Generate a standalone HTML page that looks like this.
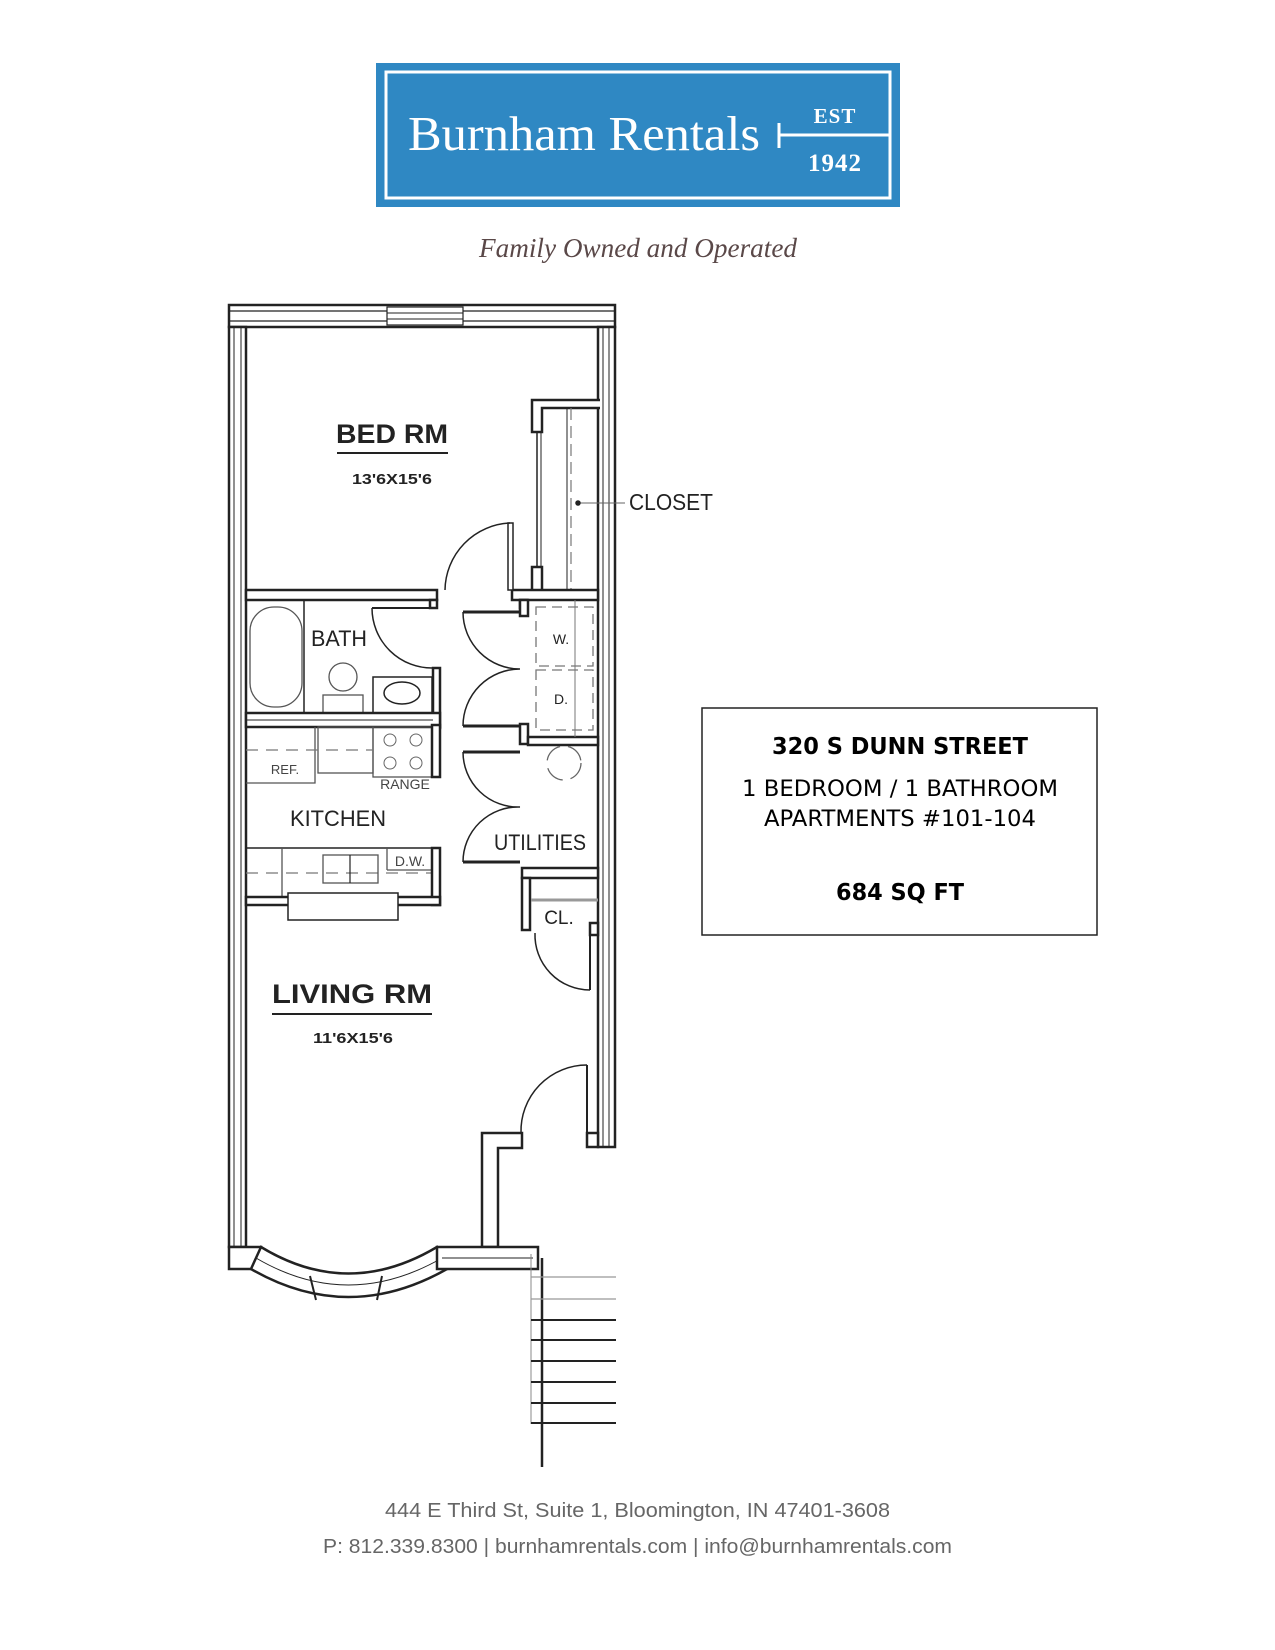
<!DOCTYPE html>
<html><head><meta charset="utf-8"><style>
html,body{margin:0;padding:0;background:#fff}
svg{display:block}
</style></head><body>
<svg width="1275" height="1650" viewBox="0 0 1275 1650" xmlns="http://www.w3.org/2000/svg">
<!-- Logo -->
<rect x="376" y="63" width="524" height="144" fill="#2f88c3"/>
<rect x="386" y="72" width="504" height="126" fill="none" stroke="#fff" stroke-width="3"/>
<text x="408" y="150" font-family="Liberation Serif, serif" font-size="49" fill="#fff" textLength="352" lengthAdjust="spacingAndGlyphs">Burnham Rentals</text>
<line x1="778" y1="135" x2="890" y2="135" stroke="#fff" stroke-width="3"/>
<line x1="779" y1="123" x2="779" y2="148" stroke="#fff" stroke-width="3"/>
<text x="835" y="123" text-anchor="middle" font-family="Liberation Serif, serif" font-size="21" font-weight="bold" fill="#fff" letter-spacing="1">EST</text>
<text x="835" y="171" text-anchor="middle" font-family="Liberation Serif, serif" font-size="25" font-weight="bold" fill="#fff" letter-spacing="1">1942</text>
<text x="638" y="257" text-anchor="middle" font-family="Liberation Serif, serif" font-style="italic" font-size="27" fill="#5a4848" textLength="318" lengthAdjust="spacingAndGlyphs">Family Owned and Operated</text>

<g stroke="#222" fill="none" stroke-width="2.5">
<!-- top wall -->
<rect x="229" y="305" width="386" height="22" fill="#fff"/>
<line x1="229" y1="311" x2="615" y2="311" stroke-width="1.2"/>
<line x1="229" y1="321" x2="615" y2="321" stroke-width="1.2"/>
<rect x="387" y="307" width="76" height="18" fill="#fff" stroke-width="1.2"/>
<line x1="387" y1="313" x2="463" y2="313" stroke-width="1"/>
<line x1="387" y1="319" x2="463" y2="319" stroke-width="1"/>
<!-- left wall -->
<rect x="229" y="327" width="17" height="920" fill="#fff"/>
<line x1="234" y1="327" x2="234" y2="1247" stroke-width="1"/>
<line x1="241" y1="327" x2="241" y2="1247" stroke-width="1"/>
<!-- right wall -->
<rect x="598" y="327" width="17" height="820" fill="#fff"/>
<line x1="603" y1="327" x2="603" y2="1147" stroke-width="1"/>
<line x1="609" y1="327" x2="609" y2="1147" stroke-width="1"/>
<rect x="587" y="1133" width="11" height="14" fill="#fff"/>

<!-- closet -->
<path d="M600 400 H532 V432 H542 V408 H600" fill="#fff"/>
<line x1="537" y1="432" x2="537" y2="567" stroke-width="1.5"/>
<line x1="541" y1="432" x2="541" y2="567" stroke-width="1"/>
<rect x="532" y="567" width="10" height="25" fill="#fff"/>
<line x1="567" y1="408" x2="567" y2="592" stroke-width="1"/>
<line x1="571" y1="408" x2="571" y2="592" stroke-width="1.2" stroke-dasharray="12 6" stroke="#777"/>
<!-- bed/bath wall -->
<rect x="246" y="590" width="191" height="10" fill="#fff"/>
<rect x="430" y="600" width="7" height="8" fill="#fff"/>
<rect x="512" y="590" width="86" height="10" fill="#fff"/>
<rect x="520" y="600" width="7" height="8" fill="#fff"/>
<!-- bedroom door -->
<rect x="508" y="523" width="5" height="67" fill="#fff" stroke-width="1.5"/>
<path d="M510 523 A68 68 0 0 0 445 590" stroke-width="1.5"/>
<!-- bath door -->
<path d="M372 608 A60 60 0 0 0 433 668" stroke-width="1.5"/>
<line x1="372" y1="608" x2="430" y2="608" stroke-width="2"/>
<rect x="433" y="668" width="7" height="60" fill="#fff"/>
<!-- bath fixtures -->
<rect x="250" y="607" width="52" height="100" rx="24" stroke-width="1.3" stroke="#555"/>
<line x1="304" y1="600" x2="304" y2="713" stroke-width="1.5"/>
<circle cx="343" cy="677" r="14" stroke-width="1.3" stroke="#555"/>
<rect x="323" y="695" width="40" height="18" stroke-width="1.3" stroke="#555"/>
<rect x="373" y="677" width="59" height="36" stroke-width="1.5"/>
<ellipse cx="402" cy="693" rx="18" ry="11" stroke-width="1.5"/>
<!-- bath/kitchen wall -->
<rect x="246" y="713" width="194" height="14" fill="#fff"/>
<line x1="246" y1="720" x2="433" y2="720" stroke-width="1"/>
<!-- kitchen upper -->
<path d="M246 783 H315 V727" stroke-width="1.3" stroke="#555"/>
<rect x="318" y="727" width="55" height="46" stroke-width="1.3" stroke="#555"/>
<rect x="373" y="727" width="59" height="50" stroke-width="1.3" stroke="#555"/>
<line x1="246" y1="750" x2="373" y2="750" stroke-width="1.3" stroke="#777" stroke-dasharray="12 8"/>
<circle cx="390" cy="740" r="6" stroke-width="1" stroke="#666"/>
<circle cx="416" cy="740" r="6" stroke-width="1" stroke="#666"/>
<circle cx="390" cy="763" r="6" stroke-width="1" stroke="#666"/>
<circle cx="416" cy="763" r="6" stroke-width="1" stroke="#666"/>
<rect x="432" y="725" width="8" height="52" fill="#fff"/>
<!-- kitchen lower -->
<path d="M246 848 H432" stroke-width="1.5"/>
<line x1="282" y1="848" x2="282" y2="897" stroke-width="1.3" stroke="#555"/>
<line x1="246" y1="873" x2="432" y2="873" stroke-width="1.2" stroke="#777" stroke-dasharray="12 8"/>
<rect x="323" y="855" width="55" height="28" stroke-width="1.3" stroke="#555"/>
<line x1="350" y1="855" x2="350" y2="883" stroke-width="1.2"/>
<line x1="387" y1="848" x2="387" y2="870" stroke-width="1.3" stroke="#555"/>
<line x1="387" y1="870" x2="432" y2="870" stroke-width="1.3" stroke="#555"/>
<rect x="432" y="848" width="8" height="57" fill="#fff"/>
<rect x="246" y="897" width="43" height="8" fill="#fff"/>
<rect x="397" y="897" width="43" height="8" fill="#fff"/>
<rect x="288" y="893" width="110" height="27" fill="#fff" stroke-width="1.5"/>

<!-- utility double doors -->
<line x1="463" y1="612" x2="520" y2="612" stroke-width="3"/>
<path d="M463 612 A57 57 0 0 0 520 669 A57 57 0 0 0 463 726" stroke-width="1.5"/>
<line x1="463" y1="726" x2="520" y2="726" stroke-width="3"/>
<line x1="463" y1="752" x2="520" y2="752" stroke-width="3"/>
<path d="M463 752 A55 55 0 0 0 520 807 A55 55 0 0 0 463 862" stroke-width="1.5"/>
<line x1="463" y1="862" x2="520" y2="862" stroke-width="3"/>
<!-- W/D -->
<rect x="520" y="600" width="8" height="16" fill="#fff"/>
<rect x="520" y="724" width="8" height="20" fill="#fff"/>
<rect x="528" y="737" width="70" height="8" fill="#fff"/>
<g stroke="#777" stroke-width="1.3" stroke-dasharray="10 6">
<rect x="536" y="607" width="57" height="59"/>
<rect x="536" y="670" width="57" height="60"/>
</g>
<line x1="575" y1="600" x2="575" y2="737" stroke-width="1" stroke="#777"/>
<circle cx="564" cy="763" r="17" stroke="#666" stroke-width="1.3" stroke-dasharray="20 8"/>
<!-- utilities/CL walls -->
<rect x="522" y="868" width="76" height="10" fill="#fff"/>
<rect x="522" y="878" width="8" height="52" fill="#fff"/>
<line x1="531" y1="900" x2="598" y2="900" stroke="#999" stroke-width="3"/>
<rect x="590" y="923" width="8" height="12" fill="#fff"/>
<line x1="590" y1="935" x2="590" y2="990" stroke-width="2"/>
<path d="M535 933 A55 55 0 0 0 590 990" stroke-width="1.5"/>
<!-- entry door -->
<line x1="587" y1="1065" x2="587" y2="1133" stroke-width="2"/>
<path d="M587 1065 A66 66 0 0 0 521 1133" stroke-width="1.5"/>
<!-- entry walls -->
<path d="M522 1133 H482 V1247 H498 V1148 H522 Z" fill="#fff"/>
<!-- bay -->
<rect x="229" y="1247" width="32" height="22" fill="#fff"/>
<path d="M261 1247 Q348 1300 437 1247 L447 1269 Q348 1325 251 1269 Z" fill="#fff"/>
<path d="M256 1258 Q348 1312 442 1258" stroke-width="1"/>
<line x1="310" y1="1276" x2="316" y2="1300" stroke-width="2"/>
<line x1="382" y1="1276" x2="377" y2="1300" stroke-width="2"/>
<rect x="437" y="1247" width="101" height="22" fill="#fff"/>
<line x1="442" y1="1258" x2="533" y2="1258" stroke-width="1"/>
<!-- stairs -->
<line x1="542" y1="1258" x2="542" y2="1467" stroke-width="2.5"/>
<line x1="531" y1="1254" x2="531" y2="1424" stroke-width="1" stroke="#888"/>
<line x1="531" y1="1277" x2="616" y2="1277" stroke-width="1.2" stroke="#999"/>
<line x1="531" y1="1299" x2="616" y2="1299" stroke-width="1.2" stroke="#999"/>
<line x1="531" y1="1320" x2="616" y2="1320" stroke-width="2"/>
<line x1="531" y1="1340" x2="616" y2="1340" stroke-width="2"/>
<line x1="531" y1="1361" x2="616" y2="1361" stroke-width="2"/>
<line x1="531" y1="1382" x2="616" y2="1382" stroke-width="2"/>
<line x1="531" y1="1403" x2="616" y2="1403" stroke-width="2"/>
<line x1="531" y1="1423" x2="616" y2="1423" stroke-width="2"/>
<!-- closet leader -->
<line x1="578" y1="503" x2="625" y2="503" stroke-width="1" stroke="#666"/>
<circle cx="578" cy="503" r="1.5" fill="#222"/>
<!-- underlines -->
<line x1="337" y1="453" x2="448" y2="453" stroke-width="2"/>
<line x1="272" y1="1014" x2="432" y2="1014" stroke-width="2"/>
</g>

<g font-family="Liberation Sans, sans-serif" fill="#222">
<text x="392" y="443" text-anchor="middle" font-size="27" font-weight="bold" textLength="112" lengthAdjust="spacingAndGlyphs">BED RM</text>
<text x="392" y="484" text-anchor="middle" font-size="15" font-weight="bold" textLength="80" lengthAdjust="spacingAndGlyphs">13'6X15'6</text>
<text x="629" y="510" font-size="23" textLength="84" lengthAdjust="spacingAndGlyphs">CLOSET</text>
<text x="311" y="646" font-size="22" textLength="56" lengthAdjust="spacingAndGlyphs">BATH</text>
<text x="285" y="774" font-size="13" text-anchor="middle" fill="#444">REF.</text>
<text x="405" y="789" font-size="14" text-anchor="middle" fill="#444">RANGE</text>
<text x="338" y="826" text-anchor="middle" font-size="22" textLength="96" lengthAdjust="spacingAndGlyphs">KITCHEN</text>
<text x="410" y="866" text-anchor="middle" font-size="14" fill="#444">D.W.</text>
<text x="561" y="644" text-anchor="middle" font-size="14">W.</text>
<text x="561" y="704" text-anchor="middle" font-size="14">D.</text>
<text x="540" y="850" text-anchor="middle" font-size="22" textLength="92" lengthAdjust="spacingAndGlyphs">UTILITIES</text>
<text x="559" y="924" text-anchor="middle" font-size="19">CL.</text>
<text x="352" y="1003" text-anchor="middle" font-size="27" font-weight="bold" textLength="160" lengthAdjust="spacingAndGlyphs">LIVING RM</text>
<text x="353" y="1043" text-anchor="middle" font-size="15" font-weight="bold" textLength="80" lengthAdjust="spacingAndGlyphs">11'6X15'6</text>
</g>

<!-- info box -->
<rect x="702" y="708" width="395" height="227" fill="#fff" stroke="#222" stroke-width="1.5"/>
<g font-family="DejaVu Sans, sans-serif" fill="#000" text-anchor="middle">
<text x="900" y="754" font-size="23" font-weight="bold" textLength="256" lengthAdjust="spacingAndGlyphs">320 S DUNN STREET</text>
<text x="900" y="796" font-size="22" textLength="316" lengthAdjust="spacingAndGlyphs">1 BEDROOM / 1 BATHROOM</text>
<text x="900" y="826" font-size="22" textLength="272" lengthAdjust="spacingAndGlyphs">APARTMENTS #101-104</text>
<text x="900" y="900" font-size="23" font-weight="bold" textLength="128" lengthAdjust="spacingAndGlyphs">684 SQ FT</text>
</g>

<!-- footer -->
<g font-family="Liberation Sans, sans-serif" fill="#666" font-size="20">
<text x="385" y="1517" textLength="505" lengthAdjust="spacingAndGlyphs">444 E Third St, Suite 1, Bloomington, IN  47401-3608</text>
<text x="323" y="1553" textLength="629" lengthAdjust="spacingAndGlyphs">P: 812.339.8300 | burnhamrentals.com | info@burnhamrentals.com</text>
</g>
</svg>
</body></html>
